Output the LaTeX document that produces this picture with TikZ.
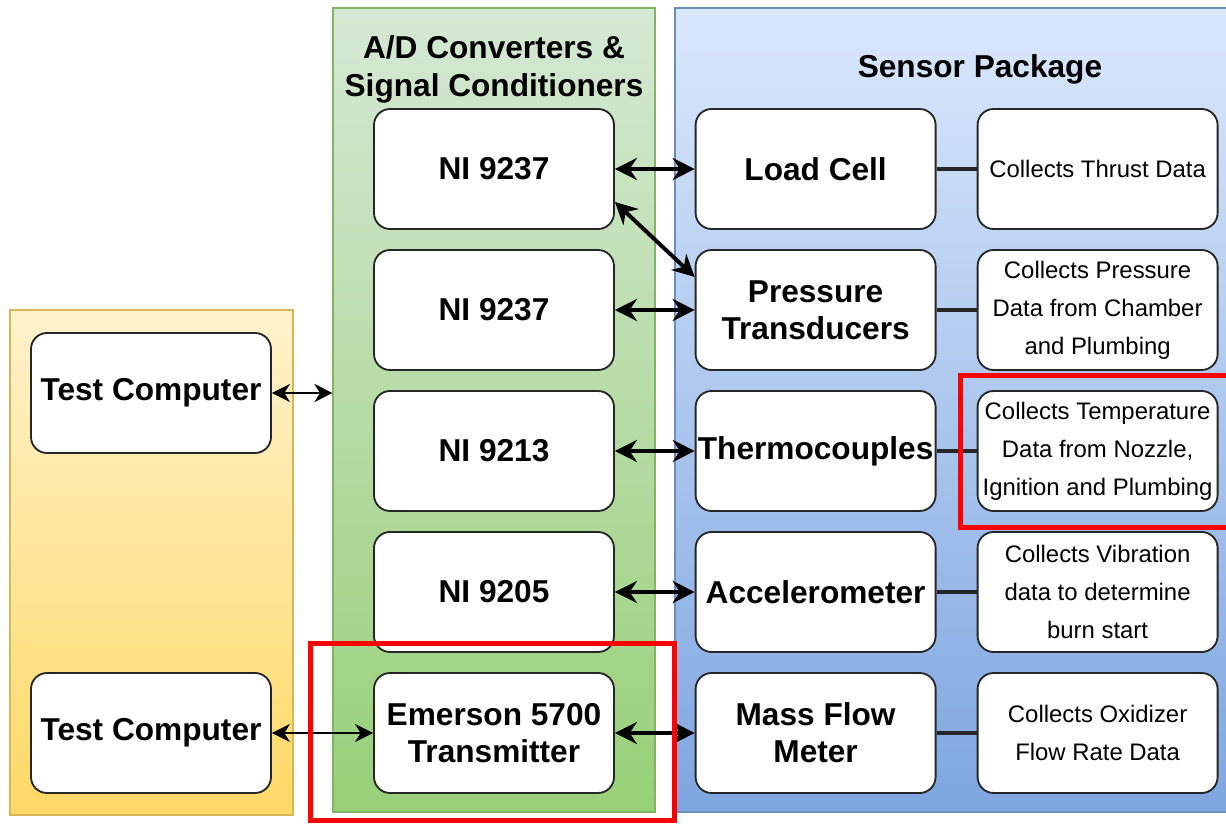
\documentclass[tikz,border=0pt]{standalone}
\usepackage{fontspec}
\setmainfont{Liberation Sans}
\usetikzlibrary{positioning,calc,arrows.meta}

\definecolor{hostTop}{HTML}{FFF2CC}
\definecolor{hostBot}{HTML}{FFD966}
\definecolor{hostLine}{HTML}{D6B656}
\definecolor{adcTop}{HTML}{D5E8D4}
\definecolor{adcBot}{HTML}{97D077}
\definecolor{adcLine}{HTML}{82B366}
\definecolor{senTop}{HTML}{DAE8FC}
\definecolor{senBot}{HTML}{7EA6E0}
\definecolor{senLine}{HTML}{6C8EBF}

\tikzset{
  panel/.style={draw, line width=0.8pt, inner sep=0pt},
  unit/.style={draw=black!85, fill=white, rounded corners=0.4cm, line width=1.3pt,
    minimum width=6cm, minimum height=3cm, inner sep=1pt, align=center,
    font=\bfseries\fontsize{22.5}{26.5}\selectfont},
  note/.style={unit, font=\fontsize{17}{27}\selectfont},
  title/.style={align=center, font=\bfseries\fontsize{22.5}{27}\selectfont},
  bus/.style={<->, >={Stealth[length=5.5mm,width=5.5mm,inset=1.8mm]}, line width=2.8pt},
  wire/.style={<->, >={Stealth[length=4.5mm,width=4.5mm,inset=1.4mm]}, line width=1.8pt},
  tap/.style={line width=2.3pt, draw=black!85},
  highlight/.style={draw=red, line width=3.5pt}
}

\begin{document}
\begin{tikzpicture}
  \useasboundingbox (0,0) rectangle (30.65,20.625);

  % Panels
  \node[panel, draw=hostLine, top color=hostTop, bottom color=hostBot,
    minimum width=7.075cm, minimum height=12.625cm] (host) at (3.7875, 6.5625) {};
  \node[panel, draw=adcLine, top color=adcTop, bottom color=adcBot,
    minimum width=8.05cm, minimum height=20.1cm] (adc) at (12.35, 10.375) {};
  \node[panel, draw=senLine, top color=senTop, bottom color=senBot,
    minimum width=13.875cm, minimum height=20.1cm] (sensors) at (23.8125, 10.375) {};
  \node[title] (adctitle) at (12.35, 18.9) {A/D Converters \&\\Signal Conditioners};
  \node[title] (sentitle) at (24.5, 18.9) {Sensor Package};

  % Test computers
  \node[unit] (pc1) at (3.775, 10.8) {Test Computer};
  \node[unit] (pc2) at (3.775, 2.3) {Test Computer};

  % A/D converters
  \node[unit] (ni1) at (12.35, 16.4) {NI 9237};
  \node[unit] (ni2) at (12.35, 12.875) {NI 9237};
  \node[unit] (ni3) at (12.35, 9.35) {NI 9213};
  \node[unit] (ni4) at (12.35, 5.825) {NI 9205};
  \node[unit] (emerson) at (12.35, 2.3) {Emerson 5700\\Transmitter};

  % Sensors
  \node[unit] (load) at (20.39, 16.4) {Load Cell};
  \node[unit] (press) at (20.39, 12.875) {Pressure\\Transducers};
  \node[unit] (thermo) at (20.39, 9.35) {Thermocouples};
  \node[unit] (accel) at (20.39, 5.825) {Accelerometer};
  \node[unit] (flow) at (20.39, 2.3) {Mass Flow\\Meter};

  % What each sensor collects
  \node[note] (nload) at (27.44, 16.4) {Collects Thrust Data};
  \node[note] (npress) at (27.44, 12.875) {Collects Pressure\\Data from Chamber\\and Plumbing};
  \node[note] (ntherm) at (27.44, 9.35) {Collects Temperature\\Data from Nozzle,\\Ignition and Plumbing};
  \node[note] (naccel) at (27.44, 5.825) {Collects Vibration\\data to determine\\burn start};
  \node[note] (nflow) at (27.44, 2.3) {Collects Oxidizer\\Flow Rate Data};

  % Computer links
  \draw[wire] (pc1.east) -- (pc1.east -| adc.west);
  \draw[wire] (pc2.east) -- (emerson.west);

  % Converter to sensor links
  \draw[bus] (ni1.east) -- (load.west);
  \draw[bus] ([yshift=-0.825cm]ni1.east) -- ([yshift=0.825cm]press.west);
  \draw[bus] (ni2.east) -- (press.west);
  \draw[bus] (ni3.east) -- (thermo.west);
  \draw[bus] (ni4.east) -- (accel.west);
  \draw[bus] (emerson.east) -- (flow.west);

  % Sensor to note lines
  \draw[tap] (load.east) -- (nload.west);
  \draw[tap] (press.east) -- (npress.west);
  \draw[tap] (thermo.east) -- (ntherm.west);
  \draw[tap] (accel.east) -- (naccel.west);
  \draw[tap] (flow.east) -- (nflow.west);

  % Red highlight boxes
  \draw[highlight] (7.76, 0.1125) rectangle (16.86, 4.5375);
  \draw[highlight] (24.01, 7.4375) rectangle (30.75, 11.2375);
\end{tikzpicture}
\end{document}
